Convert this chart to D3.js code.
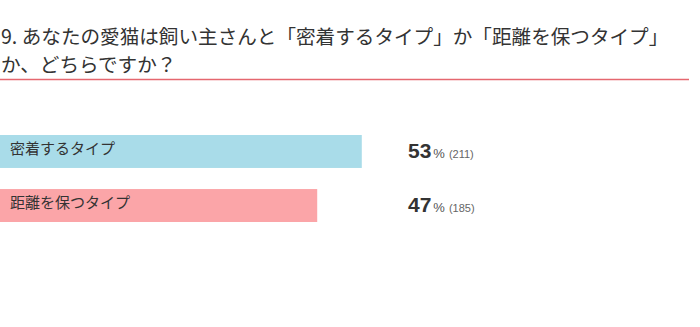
<!DOCTYPE html>
<html>
<head>
<meta charset="utf-8">
<script src="https://cdn.jsdelivr.net/npm/d3@7/dist/d3.min.js"></script>
<style>
  body { margin: 0; background: #fff; }
  svg { display: block; font-family: "Noto Sans CJK JP", "Noto Sans", sans-serif; }
</style>
</head>
<body>
<script>
// survey question and answers
var titleLines = [
    "9. あなたの愛猫は飼い主さんと「密着するタイプ」か「距離を保つタイプ」",
    "か、どちらですか？"
];
var categories = ["密着するタイプ", "距離を保つタイプ"];
var counts = [211, 185];
var percents = [53, 47];
var barColors = ["#a9dce9", "#fba5a8"];

var width = 700,
    height = 327;

var total = d3.sum(counts);

var x = d3.scaleLinear()
    .domain([0, total])
    .range([0, 679]);

var y = d3.scaleBand()
    .domain(categories)
    .range([135, 222])
    .paddingInner(0.39);

var svg = d3.select("body").append("svg")
    .attr("width", width)
    .attr("height", height);

// title
svg.selectAll(".title")
    .data(titleLines)
    .enter().append("text")
    .attr("class", "title")
    .attr("x", 1)
    .attr("y", function(d, i) { return 44 + i * 28; })
    .style("font-size", "19.6px")
    .style("fill", "#333")
    .text(function(d) { return d; });

// red rule under the title
svg.append("line")
    .attr("x1", 0)
    .attr("x2", 689)
    .attr("y1", 79.5)
    .attr("y2", 79.5)
    .style("stroke", "#e5676f")
    .style("stroke-width", 1.6);

// bars
var rows = svg.selectAll(".row")
    .data(categories)
    .enter().append("g")
    .attr("class", "row")
    .attr("transform", function(d) { return "translate(0," + y(d) + ")"; });

rows.append("rect")
    .attr("x", 0)
    .attr("width", function(d, i) { return x(counts[i]); })
    .attr("height", y.bandwidth())
    .style("fill", function(d, i) { return barColors[i]; });

// label inside bar
rows.append("text")
    .attr("x", 10)
    .attr("y", 14)
    .attr("dy", "0.35em")
    .style("font-size", "15px")
    .style("fill", "#333")
    .text(function(d) { return d; });

// value text
var val = rows.append("text")
    .attr("x", 408)
    .attr("y", 23);

val.append("tspan")
    .style("font-family", "Liberation Sans, Arial, sans-serif")
    .style("font-size", "21px")
    .style("font-weight", "bold")
    .style("fill", "#333")
    .text(function(d, i) { return percents[i]; });

val.append("tspan")
    .attr("dx", 2)
    .style("font-family", "Liberation Sans, Arial, sans-serif")
    .style("font-size", "13px")
    .style("fill", "#555")
    .text("%");

val.append("tspan")
    .attr("dx", 4)
    .style("font-family", "Liberation Sans, Arial, sans-serif")
    .style("font-size", "11px")
    .style("fill", "#666")
    .text(function(d, i) { return "(" + counts[i] + ")"; });
</script>
</body>
</html>
